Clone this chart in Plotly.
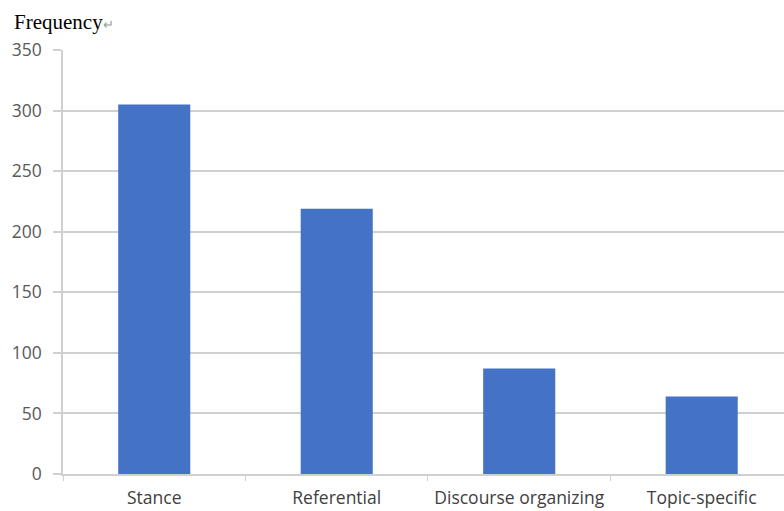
import plotly.graph_objects as go

categories = ["Stance", "Referential", "Discourse organizing", "Topic-specific"]
frequency = [305, 219, 87, 64]
y_ticks = [0, 50, 100, 150, 200, 250, 300, 350]

fig = go.Figure()
fig.add_trace(go.Bar(x=categories, y=frequency, marker=dict(color="#4472C4", line=dict(width=0))))

grid = "#d0d0d0"
fig.update_layout(
    width=784, height=511,
    margin=dict(l=63, r=0, t=50, b=37),
    plot_bgcolor="white", paper_bgcolor="white",
    showlegend=False,
    bargap=0.605,
    font=dict(family="Open Sans", size=17, color="#595959"),
)
fig.update_xaxes(
    range=[-0.5, 3.451],
    automargin=False,
    showline=True, linecolor=grid, linewidth=1.5,
    ticks="outside", ticklen=5, tickcolor=grid, tickwidth=1,
    tickson="boundaries",
    showgrid=False,
    ticklabelstandoff=7,
    tickfont=dict(family="Open Sans", size=17.5, color="#404040"),
)
fig.update_yaxes(
    range=[0, 350], tickvals=y_ticks,
    automargin=False,
    showgrid=True, gridcolor=grid, gridwidth=1.5,
    zeroline=False,
    showline=True, linecolor=grid, linewidth=1.5,
    ticks="outside", ticklen=8, tickcolor=grid, tickwidth=1.5,
    ticklabelstandoff=8,
    tickfont=dict(family="Open Sans", size=17.5, color="#595959"),
)
fig.add_annotation(
    text="Frequency<span style='font-size:13px;color:#999999'>↵</span>",
    xref="paper", yref="paper", x=(12 - 63) / 721, y=1 + 28 / 424,
    xanchor="left", yanchor="middle", showarrow=False,
    font=dict(family="Liberation Serif", size=21, color="#000000"),
)
fig.write_html("out.html")
